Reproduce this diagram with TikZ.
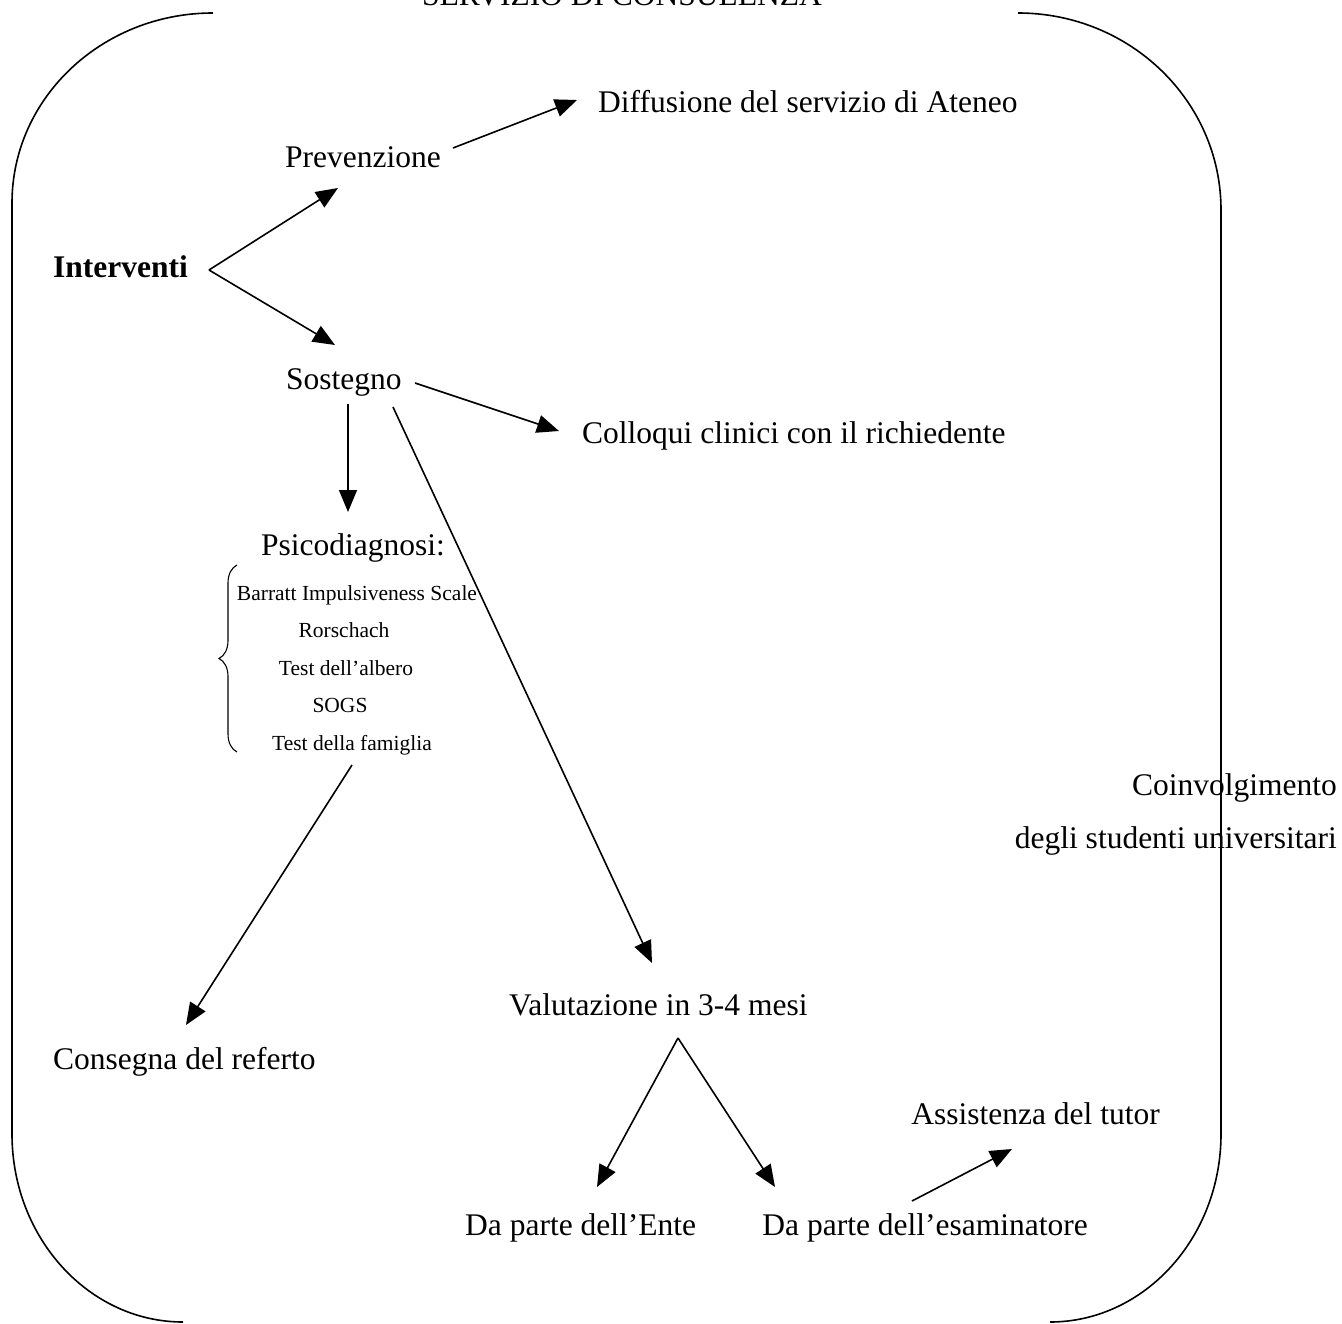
\documentclass[tikz,border=0pt]{standalone}
\usepackage{fontspec}
\setmainfont{Liberation Serif}
\usetikzlibrary{arrows.meta,decorations.pathreplacing}
\tikzset{
  lbl/.style={inner sep=0pt, font=\fontsize{31.5}{36}\selectfont},
  small/.style={inner sep=0pt, font=\fontsize{21.5}{25}\selectfont},
  arr/.style={line width=1.6pt, -{Triangle[length=22pt,width=18pt]}},
  border/.style={line width=1.6pt},
}
\begin{document}
\begin{tikzpicture}[x=1pt,y=-1pt]
\useasboundingbox (0,0) rectangle (1342,1324);
% frame
\draw[border] (213,13) .. controls (102,13) and (12,98) .. (12,203) -- (12,1134) .. controls (12,1238) and (89,1322) .. (183,1322);
\draw[border] (1018,13) .. controls (1130,13) and (1221,101) .. (1221,210) -- (1221,1134) .. controls (1221,1238) and (1144,1322) .. (1050,1322);
% texts
\node[lbl, anchor=base] (title) at (622,6) {SERVIZIO DI CONSULENZA};
\node[lbl, anchor=base west, font=\fontsize{31.5}{36}\selectfont\bfseries] (int) at (53,278) {Interventi};
\node[lbl, anchor=base west] (prev) at (285,168) {Prevenzione};
\node[lbl, anchor=base west] (diff) at (598,113) {Diffusione del servizio di Ateneo};
\node[lbl, anchor=base west] (sost) at (286,389) {Sostegno};
\node[lbl, anchor=base west] (coll) at (582,443) {Colloqui clinici con il richiedente};
\node[lbl, anchor=base east] (psico) at (445,555) {Psicodiagnosi:};
\node[small, anchor=base] (barratt) at (357,600) {Barratt Impulsiveness Scale};
\node[small, anchor=base] (rorsch) at (344,637) {Rorschach};
\node[small, anchor=base] (albero) at (346,675) {Test dell’albero};
\node[small, anchor=base] (sogs) at (340,712) {SOGS};
\node[small, anchor=base] (fam) at (352,750) {Test della famiglia};
\node[lbl, anchor=base west] (cons) at (53,1069) {Consegna del referto};
\node[lbl, anchor=base west] (valut) at (509,1015) {Valutazione in 3-4 mesi};
\node[lbl, anchor=base west] (ente) at (465,1235) {Da parte dell’Ente};
\node[lbl, anchor=base east] (esam) at (1088,1235) {Da parte dell’esaminatore};
\node[lbl, anchor=base east] (assist) at (1160,1124) {Assistenza del tutor};
\node[lbl, anchor=base east] (coinv) at (1337,795) {Coinvolgimento};
\node[lbl, anchor=base east] (degli) at (1337,848) {degli studenti universitari};
% brace
\draw[decorate, decoration={brace, amplitude=18pt}, line width=1.1pt] (237,752) -- (237,565);
% connectors
\draw[arr] ([shift={(156,-8)}]int.base west) -- ([shift={(53,20)}]prev.base west);
\draw[arr] ([shift={(156,-8)}]int.base west) -- ([shift={(49,-44)}]sost.base west);
\draw[arr] ([shift={(168,-20)}]prev.base west) -- ([shift={(-21,-13)}]diff.base west);
\draw[arr] ([shift={(129,-6)}]sost.base west) -- ([shift={(-23,-12)}]coll.base west);
\draw[arr] ([shift={(62,15)}]sost.base west) -- ([shift={(-97,-43)}]psico.base east);
\draw[arr] ([shift={(107,18)}]sost.base west) -- ([shift={(143,-52)}]valut.base west);
\draw[arr] ([shift={(0,15)}]fam.base) -- ([shift={(133,-44)}]cons.base west);
\draw[arr] ([shift={(169,23)}]valut.base west) -- ([shift={(132,-48)}]ente.base west);
\draw[arr] ([shift={(169,23)}]valut.base west) -- ([shift={(-313,-48)}]esam.base east);
\draw[arr] ([shift={(-176,-34)}]esam.base east) -- ([shift={(-148,25)}]assist.base east);
\end{tikzpicture}
\end{document}
